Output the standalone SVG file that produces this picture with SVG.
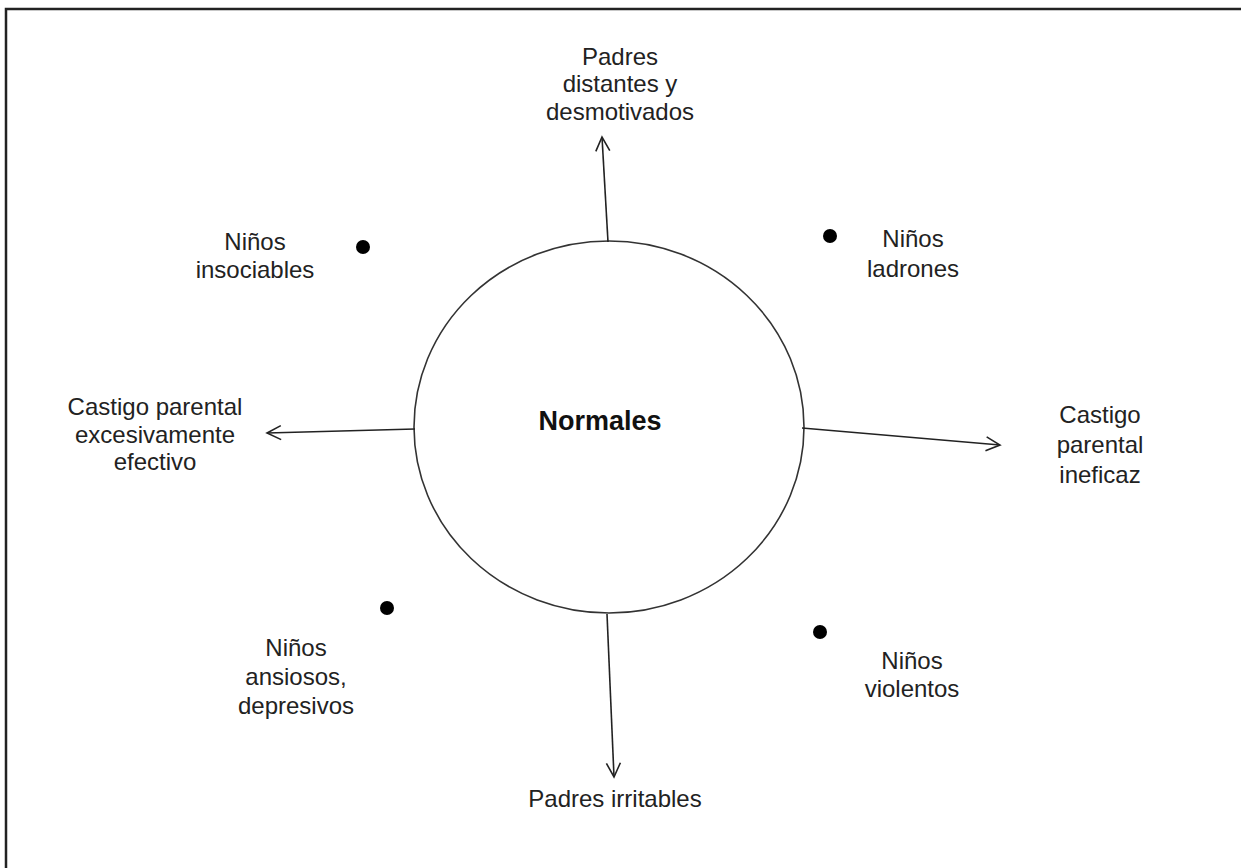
<svg xmlns="http://www.w3.org/2000/svg" width="1241" height="868" viewBox="0 0 1241 868">
  <style>
    .lbl { font-family: "Liberation Sans", Arial, sans-serif; font-size: 24px; fill: #222; text-anchor: middle; }
    .title { font-family: "Liberation Sans", Arial, sans-serif; font-size: 27px; font-weight: bold; fill: #111; text-anchor: middle; }
    .edge { stroke: #222; stroke-width: 1.6; fill: none; marker-end: url(#arrow); }
    .dot { fill: #000; }
  </style>
  <defs>
    <marker id="arrow" viewBox="0 0 20 20" refX="18" refY="10" markerWidth="20" markerHeight="20" markerUnits="userSpaceOnUse" orient="auto">
      <path d="M4,3 L18,10 L4,17" fill="none" stroke="#222" stroke-width="1.6"/>
    </marker>
  </defs>
  <rect width="1241" height="868" fill="#fff"/>
  <!-- frame (top and left edges visible) -->
  <path d="M6,868 V9 H1241" fill="none" stroke="#222" stroke-width="2.5"/>

  <g id="center">
    <ellipse cx="609" cy="427" rx="195" ry="186" fill="#fff" stroke="#333" stroke-width="1.6"/>
    <text class="title" x="600" y="430">Normales</text>
  </g>

  <g id="connectors">
    <line class="edge" x1="608" y1="242" x2="602" y2="137"/>
    <line class="edge" x1="415" y1="429" x2="267" y2="433"/>
    <line class="edge" x1="802" y1="428" x2="1000" y2="445"/>
    <line class="edge" x1="607" y1="614" x2="614" y2="777"/>
  </g>

  <g id="top">
    <text class="lbl" x="620" y="65">Padres</text>
    <text class="lbl" x="620" y="92">distantes y</text>
    <text class="lbl" x="620" y="120">desmotivados</text>
  </g>
  <g id="left">
    <text class="lbl" x="155" y="415">Castigo parental</text>
    <text class="lbl" x="155" y="443">excesivamente</text>
    <text class="lbl" x="155" y="470">efectivo</text>
  </g>
  <g id="right">
    <text class="lbl" x="1100" y="423">Castigo</text>
    <text class="lbl" x="1100" y="453">parental</text>
    <text class="lbl" x="1100" y="483">ineficaz</text>
  </g>
  <g id="bottom">
    <text class="lbl" x="615" y="807">Padres irritables</text>
  </g>

  <g id="insociables">
    <circle class="dot" cx="363" cy="247" r="7"/>
    <text class="lbl" x="255" y="250">Niños</text>
    <text class="lbl" x="255" y="278">insociables</text>
  </g>
  <g id="ladrones">
    <circle class="dot" cx="830" cy="236" r="7"/>
    <text class="lbl" x="913" y="247">Niños</text>
    <text class="lbl" x="913" y="277">ladrones</text>
  </g>
  <g id="ansiosos">
    <circle class="dot" cx="387" cy="608" r="7"/>
    <text class="lbl" x="296" y="656">Niños</text>
    <text class="lbl" x="296" y="685">ansiosos,</text>
    <text class="lbl" x="296" y="714">depresivos</text>
  </g>
  <g id="violentos">
    <circle class="dot" cx="820" cy="632" r="7"/>
    <text class="lbl" x="912" y="669">Niños</text>
    <text class="lbl" x="912" y="697">violentos</text>
  </g>
</svg>
